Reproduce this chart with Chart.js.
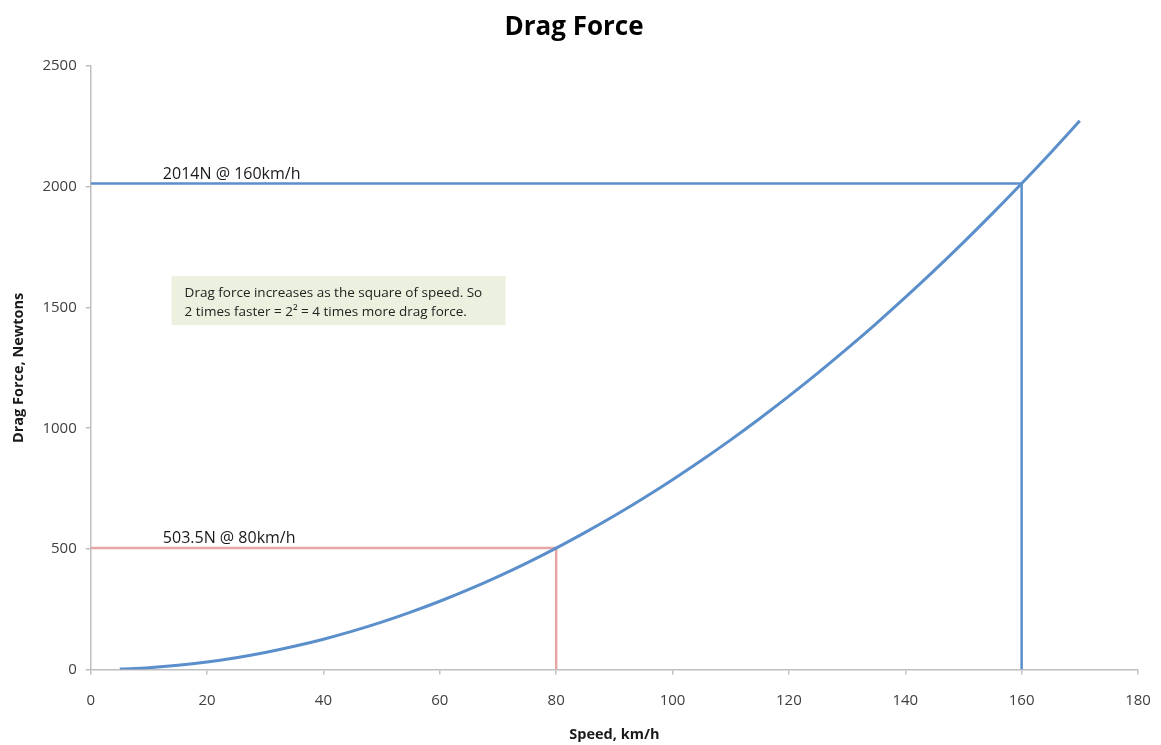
<!DOCTYPE html>
<html>
<head>
<meta charset="utf-8">
<script src="https://cdn.jsdelivr.net/npm/chart.js@4.4.1/dist/chart.umd.min.js"></script>
<style>
  html, body { margin: 0; padding: 0; background: #ffffff; }
  #wrap { width: 1161px; height: 745px; }
</style>
</head>
<body>
<div id="wrap"><canvas id="c" width="1161" height="745"></canvas></div>
<script>
// Speed (km/h) and drag force (N) along the curve
const speeds = [5, 10, 15, 20, 25, 30, 35, 40, 45, 50, 55, 60, 65, 70, 75, 80, 85,
  90, 95, 100, 105, 110, 115, 120, 125, 130, 135, 140, 145, 150, 155, 160, 165, 170];
const dragForce = [2, 7.9, 17.7, 31.5, 49.2, 70.8, 96.4, 125.9, 159.3, 196.7, 238, 283.2,
  332.4, 385.5, 442.5, 503.5, 568.4, 637.2, 710, 786.7, 867.4, 951.9, 1040.4, 1132.9,
  1229.3, 1329.6, 1433.8, 1542, 1654.1, 1770.2, 1890.1, 2014, 2141.8, 2273.6];

// Marked reference points
const markSpeeds = [80, 160];
const markForces = [503.5, 2014];
const markLabels = ['503.5N @ 80km/h', '2014N @ 160km/h'];

const noteLines = ['Drag force increases as the square of speed. So',
  '2 times faster = 2\u00B2 = 4 times more drag force.'];

const blue = '#5b8fcb';
const pink = '#e8a5a5';
const FONT = '"Open Sans", Lato, sans-serif';

function guide(speed, force) {
  return [{ x: 0, y: force }, { x: speed, y: force }, { x: speed, y: 0 }];
}

const curve = speeds.map((s, i) => ({ x: s, y: dragForce[i] }));

const labelPlugin = {
  id: 'labels',
  afterDatasetsDraw(chart) {
    const { ctx, scales: { x, y } } = chart;
    ctx.save();
    // Value labels above each guide line
    ctx.font = '16px ' + FONT;
    ctx.fillStyle = '#1a1a1a';
    ctx.textBaseline = 'alphabetic';
    ctx.textAlign = 'left';
    markForces.forEach((f, i) => {
      ctx.fillText(markLabels[i], x.getPixelForValue(12.4), y.getPixelForValue(f) - 5);
    });
    // Note box
    const bx = x.getPixelForValue(13.9), by = y.getPixelForValue(1630);
    const bw = 334, bh = 49;
    ctx.fillStyle = '#ebf1de';
    ctx.fillRect(bx, by, bw, bh);
    ctx.fillStyle = '#222222';
    ctx.font = '13.5px ' + FONT;
    ctx.fillText(noteLines[0], bx + 13, by + 21);
    ctx.fillText(noteLines[1], bx + 13, by + 40);
    ctx.restore();
  }
};

const plainNumber = v => String(v);

new Chart(document.getElementById('c'), {
  type: 'scatter',
  data: {
    datasets: [
      { data: curve, showLine: true, borderColor: blue, borderWidth: 3, pointRadius: 0,
        tension: 0.4, cubicInterpolationMode: 'monotone', order: 0 },
      { data: guide(markSpeeds[0], markForces[0]), showLine: true, borderColor: pink,
        borderWidth: 2.5, pointRadius: 0, order: 1 },
      { data: guide(markSpeeds[1], markForces[1]), showLine: true, borderColor: blue,
        borderWidth: 2.5, pointRadius: 0, order: 1 }
    ]
  },
  options: {
    responsive: false,
    animation: false,
    layout: { padding: { left: 10, right: 23, top: 4, bottom: 1 } },
    plugins: {
      legend: { display: false },
      tooltip: { enabled: false },
      title: {
        display: true, text: 'Drag Force', color: '#000000',
        font: { family: FONT, size: 26, weight: 'bold' },
        padding: { top: 8, bottom: 23 }
      }
    },
    scales: {
      x: {
        type: 'linear', min: 0, max: 180,
        afterFit(scale) { scale.paddingRight = 0; },
        ticks: { stepSize: 20, color: '#404040', padding: 17, callback: plainNumber,
          font: { family: FONT, size: 15 }, maxRotation: 0 },
        grid: { drawOnChartArea: false, drawTicks: true, tickLength: 5, color: '#bfbfbf', lineWidth: 1.5 },
        border: { color: '#bfbfbf', width: 1.5 },
        title: { display: true, text: 'Speed, km/h', color: '#1a1a1a',
          font: { family: FONT, size: 14.5, weight: 'bold' },
          padding: { top: 0, bottom: 0 } }
      },
      y: {
        type: 'linear', min: 0, max: 2500,
        ticks: { stepSize: 500, color: '#404040', padding: 9, callback: plainNumber,
          font: { family: FONT, size: 15 } },
        grid: { drawOnChartArea: false, drawTicks: true, tickLength: 5, color: '#bfbfbf', lineWidth: 1.5 },
        border: { color: '#bfbfbf', width: 1.5 },
        title: { display: true, text: 'Drag Force, Newtons', color: '#1a1a1a',
          font: { family: FONT, size: 14.5, weight: 'bold' },
          padding: { top: 0, bottom: 6 } }
      }
    }
  },
  plugins: [labelPlugin]
});
</script>
</body>
</html>
